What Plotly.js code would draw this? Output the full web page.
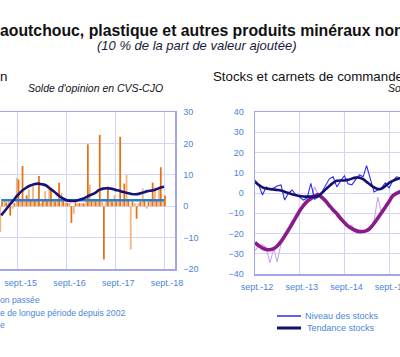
<!DOCTYPE html>
<html><head><meta charset="utf-8">
<script src="https://cdn.plot.ly/plotly-3.0.1.min.js"></script>
<style>html,body{margin:0;padding:0;overflow:hidden;background:#fff}#c{width:400px;height:357px}</style>
</head><body><div id="c"></div><script>
// ---- DATA ----
// Left panel: monthly, May 2015 .. Sep 2018
const leftStart = [2015, 5];
const prodDark = [1.4,1.2,-3.0,1.0,8.5,12.8,3.5,2.0,2.0,9.6,1.7,2.0,5.8,1.5,7.5,2.0,1.0,-5.3,1.2,1.0,0.9,19.7,2.0,2.0,22.7,-17.0,6.3,1.5,1.5,22.1,7.2,2.0,1.5,-4.0,1.5,2.0,1.5,7.5,2.0,12.4,3.4];
const prodLight = [-8.2,1.8,1.5,-0.8,9.0,2.0,1.5,5.3,7.0,2.5,1.0,4.8,6.3,2.0,2.2,4.2,1.2,1.0,-2.4,0.9,0.9,1.5,6.9,2.2,2.0,1.5,2.0,2.0,3.5,2.0,2.0,9.9,-13.8,1.0,1.0,5.6,-0.8,2.0,6.0,6.0,2.0];
const prodTrend = [-2.9,-1.3,0.3,1.9,3.5,4.8,5.8,6.5,7.0,7.2,7.0,6.6,5.6,4.6,3.5,2.6,1.9,1.7,1.7,2.0,2.4,3.0,3.6,4.2,5.1,5.6,5.7,5.6,5.2,4.9,4.5,4.2,3.9,3.8,4.0,4.4,4.8,5.0,5.3,5.9,6.2];
const meanLongTerm = 1.9;
const leftTickVals = ['2015-09-01','2016-09-01','2017-09-01','2018-09-01'];
const leftTickText = ['sept.-15','sept.-16','sept.-17','sept.-18'];

// Right panel: monthly, Sep 2012 .. Jan 2016
const rightStart = [2012, 9];
const stocksLevel = [6.4,4.0,-1.0,3.0,2.0,2.5,3.5,4.0,-3.5,0.0,1.5,-1.0,-2.0,-3.5,-2.5,4.8,-3.0,-2.0,0.5,4.0,7.0,8.0,3.0,6.0,8.5,4.5,4.0,6.5,9.0,8.0,13.5,7.0,0.5,1.5,2.5,5.0,2.5,6.0,8.0,7.5,7.0];
const stocksTrend = [5.5,4.0,2.8,2.2,1.9,1.7,1.5,1.2,0.6,0.0,-0.6,-1.1,-1.5,-1.7,-1.8,-1.8,-1.7,-1.4,0.0,1.8,3.5,5.0,6.0,6.2,6.2,6.5,7.1,7.6,7.6,6.8,5.5,4.0,2.8,2.0,2.1,3.5,5.0,6.0,6.8,7.3,7.6];
const ordersLevel = [-28.5,-26.0,-25.5,-27.0,-34.5,-27.5,-34.0,-25.0,-20.0,-17.0,-16.0,-11.0,-9.5,-5.5,-4.5,-3.0,3.0,-1.0,-1.5,-4.5,-7.0,-7.5,-11.5,-13.0,-14.0,-16.5,-16.0,-19.5,-20.0,-18.5,-19.0,-17.5,-14.0,-2.0,-10.0,-7.5,-3.5,-1.0,0.5,1.0,2.0];
const ordersTrend = [-24.5,-26.0,-27.2,-27.9,-28.0,-27.5,-26.2,-24.0,-21.3,-18.3,-15.2,-12.0,-8.8,-6.2,-4.1,-2.8,-1.6,-0.8,-2.2,-4.0,-6.2,-8.4,-10.2,-12.6,-14.6,-16.4,-17.6,-18.5,-19.0,-19.0,-18.6,-17.2,-15.0,-12.4,-9.8,-7.0,-4.2,-1.4,-0.2,0.7,1.5];
const rightTickVals = ['2012-09-01','2013-09-01','2014-09-01','2015-09-01'];
const rightTickText = ['sept.-12','sept.-13','sept.-14','sept.-15'];

// ---- helpers ----
function months(start, n){
  const out=[]; let y=start[0], m=start[1];
  for(let i=0;i<n;i++){ out.push(y+'-'+String(m).padStart(2,'0')+'-01'); m++; if(m>12){m=1;y++;} }
  return out;
}
const W=400,H=357;
const fx=x=>x/W, fy=y=>1-y/H;
const leftX = months(leftStart, prodDark.length);
const rightX = months(rightStart, stocksLevel.length);

const FONT='Liberation Sans, Arial, sans-serif';
const TICK={family:FONT,size:9,color:'#4A86D8'};
const GRID='#D4D4F6', BORDER='#A4A4E6';

const traces=[
  {type:'bar',x:leftX,y:prodLight,xaxis:'x',yaxis:'y',marker:{color:'#F4B27E'},hoverinfo:'skip'},
  {type:'bar',x:leftX,y:prodDark,xaxis:'x',yaxis:'y',marker:{color:'#E8700E'},hoverinfo:'skip'},
  {type:'scatter',mode:'lines',x:[leftX[0],leftX[leftX.length-1]],y:[meanLongTerm,meanLongTerm],xaxis:'x',yaxis:'y',line:{color:'#2A7ED2',width:2.5}},
  {type:'scatter',mode:'lines',x:leftX,y:prodTrend,xaxis:'x',yaxis:'y',line:{color:'#14147A',width:2.6,shape:'spline'}},
  {type:'scatter',mode:'lines',x:rightX,y:ordersLevel,xaxis:'x2',yaxis:'y2',line:{color:'#C9A2F0',width:1.1}},
  {type:'scatter',mode:'lines',x:rightX,y:ordersTrend,xaxis:'x2',yaxis:'y2',line:{color:'#8A1C8A',width:3.6,shape:'spline'}},
  {type:'scatter',mode:'lines',x:rightX,y:stocksLevel,xaxis:'x2',yaxis:'y2',line:{color:'#2B2BF2',width:1.1}},
  {type:'scatter',mode:'lines',x:rightX,y:stocksTrend,xaxis:'x2',yaxis:'y2',line:{color:'#12126E',width:2.6,shape:'spline'}}
];

function ann(text,x,y,opts){
  return Object.assign({text:text,xref:'paper',yref:'paper',x:fx(x),y:fy(y),xanchor:'left',yanchor:'middle',showarrow:false,font:{family:FONT,size:9,color:'#4A86D8'}},opts||{});
}

const layout={
  width:W,height:H,margin:{l:0,r:0,t:0,b:0},paper_bgcolor:'#fff',plot_bgcolor:'#fff',
  showlegend:false,barmode:'group',bargap:0.06,bargroupgap:0,
  xaxis:{domain:[0,fx(175)],type:'date',range:['2015-04-22','2018-11-22'],tickmode:'array',tickvals:leftTickVals,ticktext:leftTickText,
    showgrid:true,gridcolor:GRID,gridwidth:1,ticks:'',tickfont:TICK,showline:true,mirror:true,linecolor:BORDER,linewidth:1.5,anchor:'y',ticklabelshift:3,ticklabelstandoff:5,zeroline:false},
  yaxis:{domain:[fy(269),fy(112)],range:[-20,30],dtick:10,tick0:0,side:'right',anchor:'x',showline:true,linecolor:BORDER,linewidth:1.5,
    ticks:'',tickfont:TICK,gridcolor:GRID,gridwidth:1,zeroline:false,ticklabelstandoff:5},
  xaxis2:{domain:[fx(255),1],type:'date',range:['2012-09-01','2015-11-29'],tickmode:'array',tickvals:rightTickVals,ticktext:rightTickText,
    showgrid:true,gridcolor:GRID,gridwidth:1,ticks:'',tickfont:TICK,showline:true,mirror:true,linecolor:BORDER,linewidth:1.5,anchor:'y2',ticklabelshift:2,ticklabelstandoff:4,zeroline:false,ticklabeloverflow:'allow'},
  yaxis2:{domain:[fy(274),fy(112)],range:[-40,40],dtick:10,tick0:0,side:'left',anchor:'x2',showline:true,linecolor:BORDER,linewidth:1.5,
    ticks:'',tickfont:TICK,gridcolor:GRID,gridwidth:1,zeroline:false,ticklabelstandoff:8},
  annotations:[
    ann('<b>aoutchouc, plastique et autres produits minéraux non</b>',-2,30,{font:{family:FONT,size:15.8,color:'#111'}}),
    ann('<i>(10 % de la part de valeur ajoutée)</i>',196,45,{xanchor:'center',font:{family:FONT,size:13,color:'#1a1a3a'}}),
    ann('n',-2,76,{font:{family:FONT,size:13.3,color:'#111'}}),
    ann('Stocks et carnets de commandes',211,76,{font:{family:FONT,size:13.3,color:'#111'}}),
    ann('<i>Solde d\'opinion en CVS-CJO</i>',26,88,{font:{family:FONT,size:10.5,color:'#111'}}),
    ann('<i>Solde d\'opinion en CVS-CJO</i>',386,88,{font:{family:FONT,size:10.5,color:'#111'}}),
    ann('on passée',-2,300,{font:{family:FONT,size:8.6,color:'#4A86D8'}}),
    ann('e de longue période depuis 2002',-2,313,{font:{family:FONT,size:8.6,color:'#4A86D8'}}),
    ann('e',-2,325,{font:{family:FONT,size:8.6,color:'#4A86D8'}}),
    ann('Niveau des stocks',303,316),
    ann('Tendance stocks',305,328)
  ],
  shapes:[
    {type:'line',xref:'paper',yref:'paper',x0:fx(277),x1:fx(301),y0:fy(316),y1:fy(316),line:{color:'#2B2BF2',width:1.5}},
    {type:'line',xref:'paper',yref:'paper',x0:fx(277),x1:fx(301),y0:fy(328),y1:fy(328),line:{color:'#12126E',width:3}}
  ]
};
Plotly.newPlot('c',traces,layout,{staticPlot:true,displayModeBar:false});
</script></body></html>
